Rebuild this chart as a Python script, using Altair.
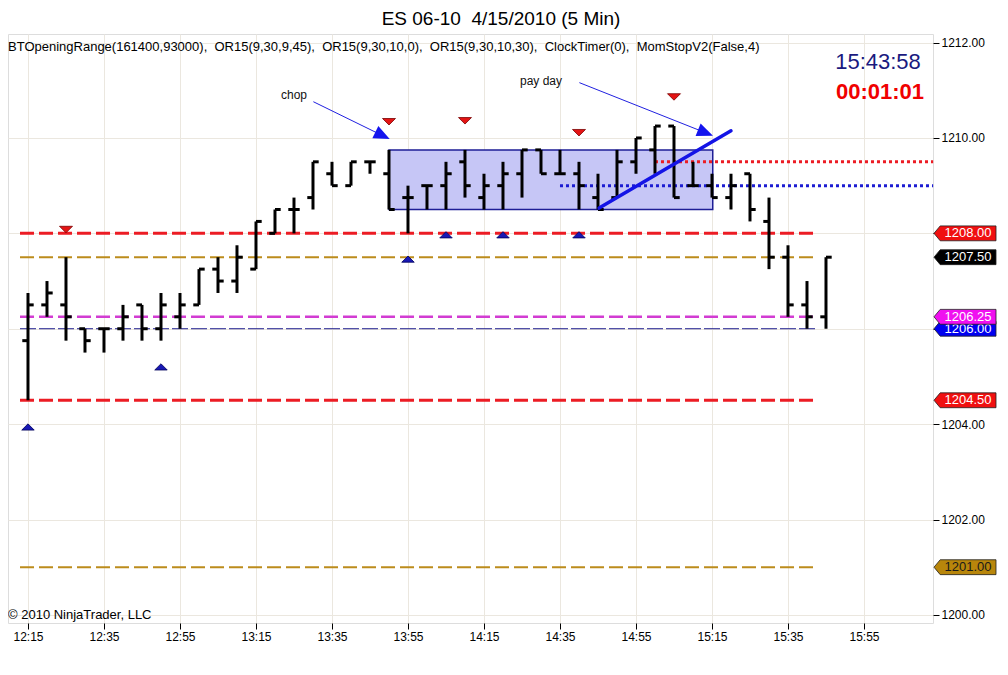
import altair as alt
import pandas as pd

FONT = "Liberation Sans"

# ---------------- data ----------------
bar_time_labels = ["12:15", "12:20", "12:25", "12:30", "12:35", "12:40", "12:45", "12:50", "12:55", "13:00",
                   "13:05", "13:10", "13:15", "13:20", "13:25", "13:30", "13:35", "13:40", "13:45", "13:50",
                   "13:55", "14:00", "14:05", "14:10", "14:15", "14:20", "14:25", "14:30", "14:35", "14:40",
                   "14:45", "14:50", "14:55", "15:00", "15:05", "15:10", "15:15", "15:20", "15:25", "15:30",
                   "15:35", "15:40", "15:45"]
opens = [1205.75, 1206.50, 1206.50, 1206.00, 1206.00, 1206.00, 1206.50, 1206.00, 1206.25, 1206.50,
         1207.25, 1207.00, 1207.25, 1208.00, 1208.50, 1208.75, 1209.25, 1209.00, 1209.50, 1209.25,
         1208.75, 1209.00, 1209.00, 1209.50, 1208.75, 1209.00, 1209.25, 1209.75, 1209.25, 1209.25,
         1208.75, 1208.75, 1209.50, 1209.75, 1210.25, 1209.00, 1209.00, 1208.75, 1209.25, 1208.25,
         1207.50, 1206.50, 1206.25]
highs = [1206.75, 1207.00, 1207.50, 1206.00, 1206.00, 1206.50, 1206.50, 1206.75, 1206.75, 1207.25,
         1207.50, 1207.75, 1208.25, 1208.50, 1208.75, 1209.50, 1209.50, 1209.50, 1209.50, 1209.75,
         1209.00, 1209.00, 1209.50, 1209.75, 1209.25, 1209.50, 1209.75, 1209.75, 1209.75, 1209.50,
         1209.25, 1209.75, 1210.00, 1210.25, 1210.25, 1209.50, 1209.25, 1209.25, 1209.25, 1208.75,
         1207.75, 1207.00, 1207.50]
lows = [1204.50, 1206.25, 1205.75, 1205.50, 1205.50, 1205.75, 1205.75, 1205.75, 1206.00, 1206.50,
        1206.75, 1206.75, 1207.25, 1208.00, 1208.00, 1208.50, 1209.00, 1209.00, 1209.25, 1208.50,
        1208.00, 1208.50, 1208.50, 1208.75, 1208.50, 1208.50, 1208.75, 1209.25, 1209.25, 1208.50,
        1208.50, 1208.75, 1209.25, 1209.25, 1208.75, 1209.00, 1208.75, 1208.50, 1208.25, 1207.25,
        1206.25, 1206.00, 1206.00]
closes = [1206.50, 1206.75, 1206.25, 1205.75, 1206.00, 1206.25, 1206.00, 1206.50, 1206.50, 1207.25,
          1207.00, 1207.50, 1208.25, 1208.50, 1208.50, 1209.50, 1209.00, 1209.50, 1209.50, 1208.50,
          1208.75, 1209.00, 1209.25, 1209.00, 1209.00, 1209.25, 1209.75, 1209.25, 1209.25, 1209.00,
          1208.50, 1209.50, 1210.00, 1210.25, 1208.75, 1209.00, 1208.75, 1209.00, 1208.50, 1207.50,
          1206.50, 1206.25, 1207.50]

# horizontal indicator levels (price, start minute, end minute)
level_names = ["or_high", "gold_mid", "mag_pivot", "blue_pivot", "or_low", "gold_low", "stop_red", "stop_blue"]
level_prices = [1208.00, 1207.50, 1206.25, 1206.00, 1204.50, 1201.00, 1209.50, 1209.00]
level_starts = [732.9, 732.9, 732.9, 732.9, 732.9, 732.9, 900.0, 875.0]
level_ends = [942.4, 942.4, 942.4, 942.4, 942.4, 942.4, 973.2, 973.2]

# MomStop signal triangles
sig_dn_times = [745, 830, 850, 880, 905]
sig_dn_prices = [1208.08, 1210.34, 1210.36, 1210.11, 1210.86]
sig_up_times = [735, 770, 835, 845, 860, 880]
sig_up_prices = [1203.94, 1205.20, 1207.46, 1207.97, 1207.97, 1207.97]

# "chop" range box
box_t0, box_t1 = [830.0], [915.2]
box_p0, box_p1 = [1208.50], [1209.75]

# trend line
trend_t = [885.3, 920.0]
trend_p = [1208.53, 1210.15]

# annotations
annot_text = ["chop", "pay day"]
annot_t = [805.0, 870.0]
annot_p = [1210.91, 1211.20]
arrow_t0 = [810.1, 880.1]
arrow_p0 = [1210.76, 1211.16]
arrow_t1 = [828.3, 913.3]
arrow_p1 = [1210.05, 1210.11]

# price markers on the right axis
tag_names = ["or_high", "last", "blue_pivot", "mag_pivot", "or_low", "gold_low"]
tag_prices = [1208.00, 1207.50, 1206.00, 1206.25, 1204.50, 1201.00]

x_tick_labels = ["12:15", "12:35", "12:55", "13:15", "13:35", "13:55", "14:15", "14:35", "14:55", "15:15", "15:35", "15:55"]
y_ticks = [1200, 1202, 1204, 1206, 1208, 1210, 1212]

title_text = "ES 06-10\u00a0 4/15/2010 (5 Min)"
indicator_text = ("BTOpeningRange(161400,93000),\u00a0 OR15(9,30,9,45),\u00a0 OR15(9,30,10,0),\u00a0 "
                  "OR15(9,30,10,30),\u00a0 ClockTimer(0),\u00a0 MomStopV2(False,4)")
clock_text = "15:43:58"
timer_text = "00:01:01"
copyright_text = "\u00a9 2010 NinjaTrader, LLC"


def to_min(s):
    h, m = s.split(":")
    return int(h) * 60 + int(m)


# ---------------- styles ----------------
level_style = {
    "or_high": ("#ec1c24", 3, [14, 5]),
    "gold_mid": ("#bc8c1c", 2, [14, 5]),
    "mag_pivot": ("#d23cd2", 2.5, [14, 5]),
    "blue_pivot": ("#1c1c8c", 1, [16, 3]),
    "or_low": ("#ec1c24", 3, [14, 5]),
    "gold_low": ("#bc8c1c", 2, [14, 5]),
    "stop_red": ("#ec1c24", 3, [3, 3]),
    "stop_blue": ("#1c1cd2", 3, [3, 3]),
}
tag_fill = {"or_high": "#f01010", "last": "#000000", "blue_pivot": "#0000f0",
            "mag_pivot": "#f010f0", "or_low": "#f01010", "gold_low": "#b8860b"}
tag_text_color = {"or_high": "white", "last": "white", "blue_pivot": "white",
                  "mag_pivot": "white", "or_low": "white", "gold_low": "#1a1a1a"}

W, H = 925, 589
XS = alt.Scale(domain=[729.74, 973.16], nice=False, zero=False)
YS = alt.Scale(domain=[1199.83, 1212.18], nice=False, zero=False)

x_axis = alt.Axis(values=[to_min(s) for s in x_tick_labels], title=None, domain=False,
                  labelExpr="floor(datum.value / 60) + ':' + (datum.value % 60 < 10 ? '0' : '') + (datum.value % 60)",
                  tickSize=6, tickColor="black", labelColor="black", labelFontSize=12, labelFont=FONT,
                  labelPadding=2, labelFlush=False, labelOverlap=False,
                  grid=True, gridColor="#ebe7df", gridWidth=1, zindex=0)
# labels at 1206 and 1208 sit under the price markers, as in the reference
y_axis = alt.Axis(values=y_ticks, orient="right", title=None, domain=False,
                  labelExpr="(datum.value == 1206 || datum.value == 1208) ? '' : format(datum.value, '.2f')",
                  tickSize=6, tickColor="black", labelColor="black", labelFontSize=12, labelFont=FONT,
                  labelPadding=2, labelOverlap=False, labelFlush=False,
                  grid=True, gridColor="#ebe7df", gridWidth=1, zindex=0)


def X(f):
    return alt.X(f, type="quantitative", scale=XS, axis=x_axis)


def Y(f):
    return alt.Y(f, type="quantitative", scale=YS, axis=y_axis)


bars = pd.DataFrame({"t": [to_min(s) for s in bar_time_labels], "o": opens, "h": highs, "l": lows, "c": closes})
levels = pd.DataFrame({"name": level_names, "p": level_prices, "t0": level_starts, "t1": level_ends})

layers = []

# solid-dash level lines first
for nm in level_names[:6]:
    col, wd, dash = level_style[nm]
    layers.append(alt.Chart(levels).transform_filter(alt.datum.name == nm)
                  .mark_rule(color=col, strokeWidth=wd, strokeDash=dash)
                  .encode(x=X("t0"), x2="t1", y=Y("p")))

# chop box
box_df = pd.DataFrame({"t0": box_t0, "t1": box_t1, "p0": box_p0, "p1": box_p1})
layers.append(alt.Chart(box_df).mark_rect(fill="#c6c6f6", stroke="#1e1e96", strokeWidth=1.5)
              .encode(x=X("t0"), x2="t1", y=Y("p0"), y2="p1"))

# dotted stop lines
for nm in level_names[6:]:
    col, wd, dash = level_style[nm]
    layers.append(alt.Chart(levels).transform_filter(alt.datum.name == nm)
                  .mark_rule(color=col, strokeWidth=wd, strokeDash=dash)
                  .encode(x=X("t0"), x2="t1", y=Y("p")))

# OHLC bars
base = alt.Chart(bars)
layers.append(base.mark_rule(color="black", strokeWidth=3).encode(x=X("t"), y=Y("l"), y2="h"))
layers.append(base.transform_calculate(ta="datum.t - 1.5")
              .mark_rule(color="black", strokeWidth=3).encode(x=X("ta"), x2="t", y=Y("o")))
layers.append(base.transform_calculate(tb="datum.t + 1.5")
              .mark_rule(color="black", strokeWidth=3).encode(x=X("t"), x2="tb", y=Y("c")))

# trend line
trend_df = pd.DataFrame({"t0": [trend_t[0]], "t1": [trend_t[1]], "p0": [trend_p[0]], "p1": [trend_p[1]]})
layers.append(alt.Chart(trend_df).mark_rule(color="#1414e6", strokeWidth=3.5, strokeCap="round")
              .encode(x=X("t0"), x2="t1", y=Y("p0"), y2="p1"))

# annotation arrows
arr_df = pd.DataFrame({"t0": arrow_t0, "p0": arrow_p0, "t1": arrow_t1, "p1": arrow_p1, "k": [0, 1]})
layers.append(alt.Chart(arr_df).mark_rule(color="#2020e0", strokeWidth=1)
              .encode(x=X("t0"), x2="t1", y=Y("p0"), y2="p1"))
HEAD = "M0,-1 L0.85,1 L-0.85,1 Z"
for k, ang in [(0, 116.1), (1, 111.7)]:
    layers.append(alt.Chart(arr_df).transform_filter(alt.datum.k == k)
                  .mark_point(shape=HEAD, size=256, filled=True, color="#1414ee", opacity=1, angle=ang)
                  .encode(x=X("t1"), y=Y("p1")))
ann_df = pd.DataFrame({"label": annot_text, "t": annot_t, "p": annot_p})
layers.append(alt.Chart(ann_df).mark_text(font=FONT, fontSize=12, color="#111111")
              .encode(x=X("t"), y=Y("p"), text="label:N"))

# signal triangles
DOWN = "M-1,-0.5 L1,-0.5 L0,0.5 Z"
UP = "M-1,0.5 L1,0.5 L0,-0.5 Z"
dn_df = pd.DataFrame({"t": sig_dn_times, "p": sig_dn_prices})
up_df = pd.DataFrame({"t": sig_up_times, "p": sig_up_prices})
layers.append(alt.Chart(dn_df).mark_point(shape=DOWN, size=169, filled=True, fill="#e41414",
                                          stroke="#7a0000", strokeWidth=0.8, opacity=1)
              .encode(x=X("t"), y=Y("p")))
layers.append(alt.Chart(up_df).mark_point(shape=UP, size=156, filled=True, fill="#1818b4",
                                          stroke="#00005a", strokeWidth=0.8, opacity=1)
              .encode(x=X("t"), y=Y("p")))

# price tags on the right axis
TAG = "M-1,0 L-0.8,-0.24 L1,-0.24 L1,0.24 L-0.8,0.24 Z"
tag_df = pd.DataFrame({"name": tag_names, "p": tag_prices,
                       "label": ["%.2f" % v for v in tag_prices]})
for nm in tag_names:
    layers.append(alt.Chart(tag_df).transform_filter(alt.datum.name == nm)
                  .mark_point(shape=TAG, size=62 * 62, filled=True, fill=tag_fill[nm],
                              stroke="#202020", strokeWidth=0.8, opacity=1)
                  .encode(x=alt.value(W + 32), y=Y("p")))
    layers.append(alt.Chart(tag_df).transform_filter(alt.datum.name == nm)
                  .mark_text(font=FONT, fontSize=13, color=tag_text_color[nm], dx=3)
                  .encode(x=alt.value(W + 32), y=Y("p"), text="label:N"))

# overlay texts
txt = pd.DataFrame({"title": [title_text], "ind": [indicator_text], "clock": [clock_text],
                    "timer": [timer_text], "copy": [copyright_text]})
tbase = alt.Chart(txt)
layers.append(tbase.mark_text(font=FONT, fontSize=19, color="black", align="center", baseline="middle")
              .encode(x=alt.value(493), y=alt.value(-15), text="title:N"))
layers.append(tbase.mark_text(font=FONT, fontSize=13, color="black", align="left", baseline="middle")
              .encode(x=alt.value(0), y=alt.value(13), text="ind:N"))
layers.append(tbase.mark_text(font=FONT, fontSize=22, color="#1a1a80", align="center", baseline="middle")
              .encode(x=alt.value(870), y=alt.value(28), text="clock:N"))
layers.append(tbase.mark_text(font=FONT, fontSize=22, fontWeight="bold", color="#f00000",
                              align="center", baseline="middle")
              .encode(x=alt.value(872), y=alt.value(58), text="timer:N"))
layers.append(tbase.mark_text(font=FONT, fontSize=13, color="black", align="left", baseline="middle")
              .encode(x=alt.value(0), y=alt.value(581), text="copy:N"))

chart = alt.layer(*layers).properties(
    width=W, height=H,
    autosize=alt.AutoSizeParams(type="none"),
    padding={"left": 0, "top": 26, "right": 67, "bottom": 44},
    background="white",
).configure_view(stroke="black", strokeWidth=1).configure(font=FONT)

chart.save("out.html", embed_options={"renderer": "svg", "actions": False})
